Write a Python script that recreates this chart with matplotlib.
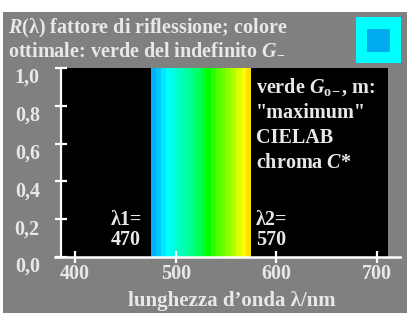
import matplotlib
matplotlib.use("Agg")
import matplotlib.pyplot as plt
from matplotlib.patches import Rectangle

# spectrum stripes (left edge in nm) and their colours
stripe_nm = [475, 480, 485, 490, 495, 500, 505, 510, 515, 520,
             525, 530, 535, 540, 545, 550, 555, 560, 565, 570]
stripe_col = ['#00b0ff', '#00c8ff', '#00e8ff', '#00fff8', '#00ffe0',
              '#00ffc8', '#00ffb0', '#00ff98', '#00ff80', '#00ff60',
              '#00ff30', '#00ff00', '#30ff00', '#50ff00', '#70ff00',
              '#90ff00', '#b0ff00', '#d8ff00', '#ffff00', '#ffe000']
reflect = [1.0] * len(stripe_nm)

x_ticks = [400, 500, 600, 700]
y_ticks = [0.0, 0.2, 0.4, 0.6, 0.8, 1.0]
y_labels = ['0,0', '0,2', '0,4', '0,6', '0,8', '1,0']

txt = '#e8e8e8'
W, H = 413, 316
fs = 14.5

plt.rcParams['font.family'] = ['Liberation Serif', 'DejaVu Serif']
plt.rcParams['font.weight'] = 'bold'
plt.rcParams['mathtext.fontset'] = 'custom'
plt.rcParams['mathtext.rm'] = 'Liberation Serif:bold'
plt.rcParams['mathtext.it'] = 'Liberation Serif:italic:bold'
plt.rcParams['mathtext.bf'] = 'Liberation Serif:bold'

fig = plt.figure(figsize=(W / 100, H / 100), dpi=100)
fig.patch.set_facecolor('white')
fig.patches.append(Rectangle((3 / W, 3 / H), 404 / W, 301 / H, transform=fig.transFigure,
                             facecolor='#808080', edgecolor='none', zorder=-10))

# colour icon top right
fig.patches.append(Rectangle((356 / W, 1 - 63 / H), 45 / W, 46 / H, transform=fig.transFigure,
                             facecolor='#00ffff', edgecolor='none', zorder=1))
fig.patches.append(Rectangle((367 / W, 1 - 52 / H), 23 / W, 23 / H, transform=fig.transFigure,
                             facecolor='#00aaee', edgecolor='none', zorder=2))

# title
fig.text(8 / W, 1 - 33 / H, r'$R$(λ) fattore di riflessione; colore', color=txt,
         fontsize=fs, va='baseline', ha='left')
fig.text(8 / W, 1 - 54 / H, r'ottimale: verde del indefinito $G_{-}$', color=txt,
         fontsize=fs, va='baseline', ha='left')

ax = fig.add_axes([61 / W, 1 - 257 / H, 327 / W, 189 / H])
ax.set_facecolor('black')
ax.bar(stripe_nm, reflect, width=5, align='edge', color=stripe_col, linewidth=0)
ax.set_xlim(386, 711)
ax.set_ylim(0, 1.0)

for s in ['top', 'right', 'bottom']:
    ax.spines[s].set_visible(False)
ax.spines['left'].set_color('white')
ax.spines['left'].set_linewidth(1.6)
ax.plot([380, 723], [0, 0], color='white', lw=1.8, clip_on=False, zorder=5)

ax.set_xticks(x_ticks)
ax.set_xticklabels([str(v) for v in x_ticks])
ax.set_yticks(y_ticks)
ax.set_yticklabels(y_labels)
for lab in ax.get_yticklabels():
    lab.set_va('top')
ax.tick_params(axis='x', direction='inout', length=8, width=1.6, color='white',
               labelcolor=txt, labelsize=fs, pad=1)
ax.tick_params(axis='y', direction='inout', length=8.5, width=1.6, color='white',
               labelcolor=txt, labelsize=fs, pad=11)

# annotations inside the plot
ax.text(580, 0.868, r'verde $G_{\mathrm{o}\!-}$, m:', color=txt, fontsize=fs, va='baseline')
ax.text(580, 0.735, '"maximum"', color=txt, fontsize=fs, va='baseline')
ax.text(580, 0.603, 'CIELAB', color=txt, fontsize=fs, va='baseline')
ax.text(580, 0.471, r'chroma $C$*', color=txt, fontsize=fs, va='baseline')
ax.text(580, 0.169, 'λ2=', color=txt, fontsize=fs, va='baseline')
ax.text(580, 0.063, '570', color=txt, fontsize=fs, va='baseline')
ax.text(435, 0.169, 'λ1=', color=txt, fontsize=fs, va='baseline')
ax.text(435, 0.063, '470', color=txt, fontsize=fs, va='baseline')

fig.text(232 / W, 1 - 306 / H, 'lunghezza d’onda λ/nm', color=txt, fontsize=15,
         ha='center', va='baseline')

fig.savefig('out.png', dpi=100, facecolor=fig.get_facecolor())
